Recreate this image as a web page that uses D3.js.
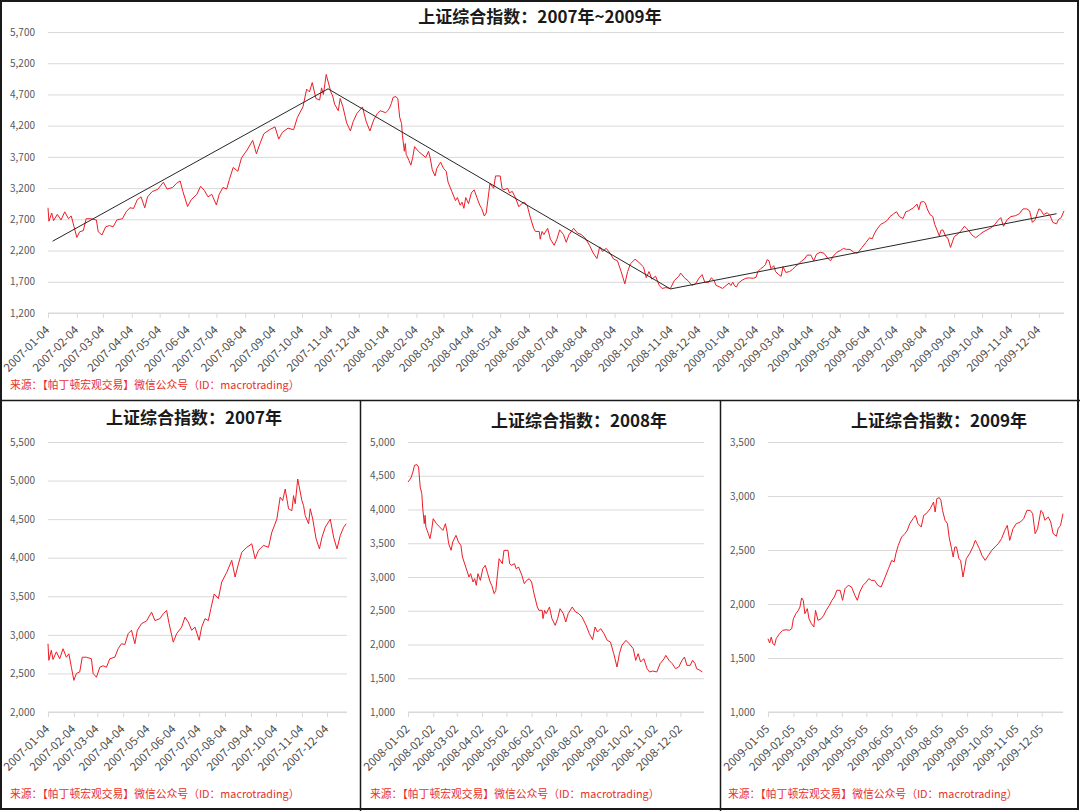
<!DOCTYPE html>
<html><head><meta charset="utf-8">
<script src="https://cdn.jsdelivr.net/npm/d3@7"></script>
<style>body{margin:0;background:#fff}svg{display:block}</style>
</head><body><svg id="c" width="1080" height="811"></svg>
<script>
const mainTitle = "上证综合指数：2007年~2009年";
const panelTitles = ["上证综合指数：2007年", "上证综合指数：2008年", "上证综合指数：2009年"];
const sourceText = "来源：【帕丁顿宏观交易】微信公众号（ID：macrotrading）";

const dates2007 = ["2007-01-04","2007-01-05","2007-01-08","2007-01-10","2007-01-14","2007-01-18","2007-01-22","2007-01-26","2007-01-29","2007-02-01","2007-02-04","2007-02-07","2007-02-11","2007-02-14","2007-02-19","2007-02-25","2007-02-27","2007-03-01","2007-03-03","2007-03-07","2007-03-11","2007-03-15","2007-03-19","2007-03-25","2007-03-29","2007-04-02","2007-04-06","2007-04-10","2007-04-14","2007-04-18","2007-04-21","2007-04-26","2007-05-02","2007-05-08","2007-05-12","2007-05-18","2007-05-22","2007-05-26","2007-05-29","2007-06-03","2007-06-07","2007-06-13","2007-06-17","2007-06-21","2007-06-25","2007-06-29","2007-07-04","2007-07-07","2007-07-11","2007-07-15","2007-07-18","2007-07-22","2007-07-27","2007-07-31","2007-08-06","2007-08-12","2007-08-16","2007-08-20","2007-08-24","2007-08-30","2007-09-05","2007-09-09","2007-09-13","2007-09-19","2007-09-25","2007-09-29","2007-10-05","2007-10-09","2007-10-12","2007-10-15","2007-10-19","2007-10-23","2007-10-25","2007-10-27","2007-10-30","2007-11-04","2007-11-06","2007-11-08","2007-11-12","2007-11-14","2007-11-17","2007-11-21","2007-11-25","2007-11-28","2007-12-02","2007-12-08","2007-12-12","2007-12-16","2007-12-20","2007-12-24","2007-12-27"];
const values2007 = [2885,2670,2800,2680,2780,2690,2820,2710,2755,2580,2410,2500,2520,2710,2710,2690,2500,2475,2450,2580,2600,2580,2690,2710,2820,2885,2875,3015,3060,2885,3060,3145,3180,3295,3185,3210,3275,3315,3145,2905,3015,3100,3230,3165,3060,3100,2930,3100,3210,3185,3340,3530,3470,3685,3810,3965,3750,3920,4070,4135,4180,3985,4095,4160,4135,4330,4500,4785,4740,4890,4635,4610,4805,4700,5020,4740,4675,4545,4440,4635,4500,4245,4115,4265,4395,4500,4265,4115,4290,4395,4440];

const dates2008 = ["2008-01-02","2008-01-04","2008-01-06","2008-01-08","2008-01-10","2008-01-13","2008-01-15","2008-01-17","2008-01-19","2008-01-20","2008-01-22","2008-01-23","2008-01-24","2008-01-27","2008-01-29","2008-01-31","2008-02-02","2008-02-06","2008-02-10","2008-02-14","2008-02-17","2008-02-19","2008-02-21","2008-02-24","2008-02-26","2008-03-01","2008-03-04","2008-03-07","2008-03-09","2008-03-13","2008-03-17","2008-03-19","2008-03-22","2008-03-24","2008-03-26","2008-03-28","2008-03-31","2008-04-03","2008-04-06","2008-04-09","2008-04-12","2008-04-14","2008-04-17","2008-04-19","2008-04-23","2008-04-27","2008-04-29","2008-05-04","2008-05-06","2008-05-08","2008-05-12","2008-05-14","2008-05-17","2008-05-21","2008-05-24","2008-05-27","2008-05-30","2008-06-02","2008-06-05","2008-06-09","2008-06-11","2008-06-15","2008-06-16","2008-06-18","2008-06-20","2008-06-24","2008-06-27","2008-07-01","2008-07-04","2008-07-07","2008-07-11","2008-07-14","2008-07-17","2008-07-22","2008-07-26","2008-07-30","2008-08-03","2008-08-08","2008-08-12","2008-08-16","2008-08-19","2008-08-22","2008-08-26","2008-08-30","2008-09-03","2008-09-07","2008-09-11","2008-09-15","2008-09-18","2008-09-21","2008-09-26","2008-09-30","2008-10-05","2008-10-08","2008-10-11","2008-10-14","2008-10-18","2008-10-22","2008-10-25","2008-10-29","2008-11-03","2008-11-07","2008-11-12","2008-11-14","2008-11-18","2008-11-22","2008-11-26","2008-11-30","2008-12-04","2008-12-07","2008-12-10","2008-12-14","2008-12-17","2008-12-20","2008-12-22","2008-12-26","2008-12-29"];
const values2008 = [4407,4440,4480,4555,4655,4665,4630,4333,4235,4037,3790,3913,3740,3642,3568,3690,3864,3790,3740,3690,3790,3667,3494,3395,3519,3617,3519,3469,3296,3148,3000,3049,2926,2975,2876,3049,2950,3123,3173,3049,2926,2876,2753,2802,3271,3197,3395,3395,3197,3173,3197,3123,3148,3025,2901,2950,2975,2926,2753,2556,2506,2506,2383,2506,2457,2556,2383,2284,2383,2531,2457,2333,2457,2556,2482,2457,2407,2284,2160,2072,2259,2185,2235,2160,2062,2037,1864,1667,1864,1988,2062,2012,1938,1765,1864,1741,1790,1642,1593,1607,1593,1716,1790,1839,1765,1716,1642,1667,1765,1815,1691,1691,1765,1716,1642,1617,1593];

const dates2009 = ["2009-01-05","2009-01-07","2009-01-09","2009-01-11","2009-01-13","2009-01-15","2009-01-19","2009-01-23","2009-01-27","2009-01-31","2009-02-03","2009-02-05","2009-02-08","2009-02-11","2009-02-13","2009-02-15","2009-02-17","2009-02-19","2009-02-22","2009-02-24","2009-02-27","2009-03-02","2009-03-04","2009-03-07","2009-03-11","2009-03-14","2009-03-17","2009-03-21","2009-03-24","2009-03-27","2009-03-30","2009-04-03","2009-04-06","2009-04-09","2009-04-13","2009-04-17","2009-04-21","2009-04-24","2009-04-27","2009-05-01","2009-05-05","2009-05-08","2009-05-11","2009-05-15","2009-05-19","2009-05-23","2009-05-28","2009-06-01","2009-06-05","2009-06-08","2009-06-10","2009-06-13","2009-06-17","2009-06-21","2009-06-24","2009-06-27","2009-07-01","2009-07-04","2009-07-07","2009-07-11","2009-07-14","2009-07-17","2009-07-22","2009-07-26","2009-07-28","2009-07-30","2009-08-02","2009-08-04","2009-08-06","2009-08-09","2009-08-12","2009-08-14","2009-08-17","2009-08-19","2009-08-21","2009-08-23","2009-08-26","2009-08-28","2009-08-31","2009-09-04","2009-09-08","2009-09-12","2009-09-15","2009-09-17","2009-09-20","2009-09-23","2009-09-27","2009-10-01","2009-10-05","2009-10-09","2009-10-13","2009-10-17","2009-10-21","2009-10-24","2009-10-27","2009-10-31","2009-11-04","2009-11-09","2009-11-13","2009-11-17","2009-11-21","2009-11-24","2009-11-27","2009-11-30","2009-12-04","2009-12-06","2009-12-09","2009-12-13","2009-12-16","2009-12-19","2009-12-23","2009-12-25","2009-12-28","2009-12-31"];
const values2009 = [1679,1639,1694,1633,1617,1679,1725,1756,1762,1756,1772,1864,1910,1941,1972,2056,2034,1910,1957,1864,1818,1787,1941,1849,1864,1895,1941,1988,2034,2065,2127,2127,2034,2142,2173,2157,2080,2034,2111,2173,2204,2235,2219,2219,2173,2157,2250,2327,2404,2389,2466,2543,2620,2651,2682,2744,2790,2821,2744,2713,2821,2836,2883,2944,2852,2975,2985,2960,2867,2775,2744,2620,2512,2435,2528,2528,2420,2404,2250,2420,2466,2528,2589,2559,2512,2451,2404,2451,2497,2528,2559,2605,2682,2728,2589,2697,2744,2759,2790,2867,2867,2836,2651,2697,2867,2852,2775,2806,2759,2651,2627,2697,2728,2836];

const trendDates = ["2007-01-09","2007-11-01","2008-11-03","2009-12-23"];
const trendValues = [2350,4790,1585,2790];

const topYTicks = [1200,1700,2200,2700,3200,3700,4200,4700,5200,5700];
const yTicks2007 = [2000,2500,3000,3500,4000,4500,5000,5500];
const yTicks2008 = [1000,1500,2000,2500,3000,3500,4000,4500,5000];
const yTicks2009 = [1000,1500,2000,2500,3000,3500];

const topXTicks = ["2007-01-04","2007-02-04","2007-03-04","2007-04-04","2007-05-04","2007-06-04","2007-07-04","2007-08-04","2007-09-04","2007-10-04","2007-11-04","2007-12-04","2008-01-04","2008-02-04","2008-03-04","2008-04-04","2008-05-04","2008-06-04","2008-07-04","2008-08-04","2008-09-04","2008-10-04","2008-11-04","2008-12-04","2009-01-04","2009-02-04","2009-03-04","2009-04-04","2009-05-04","2009-06-04","2009-07-04","2009-08-04","2009-09-04","2009-10-04","2009-11-04","2009-12-04"];
const xTicks2007 = ["2007-01-04","2007-02-04","2007-03-04","2007-04-04","2007-05-04","2007-06-04","2007-07-04","2007-08-04","2007-09-04","2007-10-04","2007-11-04","2007-12-04"];
const xTicks2008 = ["2008-01-02","2008-02-02","2008-03-02","2008-04-02","2008-05-02","2008-06-02","2008-07-02","2008-08-02","2008-09-02","2008-10-02","2008-11-02","2008-12-02"];
const xTicks2009 = ["2009-01-05","2009-02-05","2009-03-05","2009-04-05","2009-05-05","2009-06-05","2009-07-05","2009-08-05","2009-09-05","2009-10-05","2009-11-05","2009-12-05"];

const parse = d3.timeParse("%Y-%m-%d");
const fmt = d3.timeFormat("%Y-%m-%d");
const FONT = "'Noto Sans CJK SC','Noto Sans',sans-serif";
const svg = d3.select("#c").style("font-family", FONT);
svg.append("rect").attr("width",1080).attr("height",811).attr("fill","#fff");

function zip(ds, vs){ return ds.map((d,i)=>({date:parse(d), value:vs[i]})); }

function panel(o){
  const g = svg.append("g");
  const x = d3.scaleTime().domain(o.xDomain.map(parse)).range([o.x0, o.x1]);
  const y = d3.scaleLinear().domain(o.yDomain).range([o.yBot, o.yTop]);
  g.append("g").attr("transform",`translate(${o.x0},0)`)
    .call(d3.axisLeft(y).tickValues(o.yTicks).tickSize(-(o.x1-o.x0)).tickFormat(""))
    .call(s=>{s.select(".domain").remove(); s.selectAll("line").attr("stroke","#d9d9d9");});
  g.append("g").attr("transform",`translate(${o.x0},0)`)
    .call(d3.axisLeft(y).tickValues(o.yTicks).tickSize(0).tickPadding(13).tickFormat(d3.format(",")))
    .call(s=>{s.select(".domain").remove(); s.selectAll("text").attr("fill","#595959").attr("font-size",10).attr("font-family",FONT);});
  g.append("g").attr("transform",`translate(0,${o.yBot})`)
    .call(d3.axisBottom(x).tickValues(o.xTicks.map(parse)).tickSize(5).tickFormat(fmt))
    .call(s=>{
      s.select(".domain").attr("stroke","#d9d9d9").attr("d",`M${o.x0},0H${o.x1}`);
      s.selectAll("line").attr("stroke","#d9d9d9");
      s.selectAll("text").attr("fill","#4d4d4d").attr("font-size",11.5).attr("font-family",FONT)
        .attr("text-anchor","end").attr("x",0).attr("y",0).attr("dy","0.35em")
        .attr("transform","translate(-1,15) rotate(-45)");
    });
  const line = d3.line().x(d=>x(d.date)).y(d=>y(d.value));
  g.append("path").datum(o.data).attr("d",line).attr("fill","none")
    .attr("stroke","#ee1c25").attr("stroke-width",1).attr("stroke-linejoin","round");
  if (o.trend) {
    g.append("path").datum(o.trend).attr("d",line).attr("fill","none")
      .attr("stroke","#262626").attr("stroke-width",1);
  }
  g.append("text").attr("x",o.titleX).attr("y",o.titleY).attr("text-anchor","middle")
    .attr("font-size",17).attr("font-weight","bold").attr("fill","#1a1a1a").text(o.title);
  g.append("text").attr("x",o.srcX).attr("y",o.srcY).attr("font-size",10.8)
    .attr("fill","#e8302a").text(sourceText);
}

const all = zip(dates2007,values2007).concat(zip(dates2008,values2008), zip(dates2009,values2009));

panel({x0:48,x1:1064,yTop:32,yBot:313,xDomain:["2007-01-04","2009-12-31"],yDomain:[1200,5700],
  yTicks:topYTicks,xTicks:topXTicks,data:all,trend:zip(trendDates,trendValues),
  title:mainTitle,titleX:540,titleY:23,srcX:10,srcY:389});
panel({x0:48,x1:347,yTop:442,yBot:712,xDomain:["2007-01-04","2007-12-28"],yDomain:[2000,5500],
  yTicks:yTicks2007,xTicks:xTicks2007,data:zip(dates2007,values2007),
  title:panelTitles[0],titleX:194,titleY:424,srcX:10,srcY:798});
panel({x0:408,x1:704,yTop:442,yBot:712,xDomain:["2008-01-02","2008-12-31"],yDomain:[1000,5000],
  yTicks:yTicks2008,xTicks:xTicks2008,data:zip(dates2008,values2008),
  title:panelTitles[1],titleX:579,titleY:427,srcX:370,srcY:798});
panel({x0:768,x1:1063,yTop:442,yBot:712,xDomain:["2009-01-05","2009-12-31"],yDomain:[1000,3500],
  yTicks:yTicks2009,xTicks:xTicks2009,data:zip(dates2009,values2009),
  title:panelTitles[2],titleX:939,titleY:427,srcX:728,srcY:798});

const frame = svg.append("g").attr("stroke","#1a1a1a").attr("fill","none");
frame.append("rect").attr("x",1).attr("y",1).attr("width",1077).attr("height",808).attr("stroke-width",2);
frame.append("line").attr("x1",0).attr("x2",1080).attr("y1",400.5).attr("y2",400.5).attr("stroke-width",1.5);
frame.append("line").attr("x1",360.5).attr("x2",360.5).attr("y1",400).attr("y2",811).attr("stroke-width",1.5);
frame.append("line").attr("x1",720.5).attr("x2",720.5).attr("y1",400).attr("y2",811).attr("stroke-width",1.5);
</script></body></html>
